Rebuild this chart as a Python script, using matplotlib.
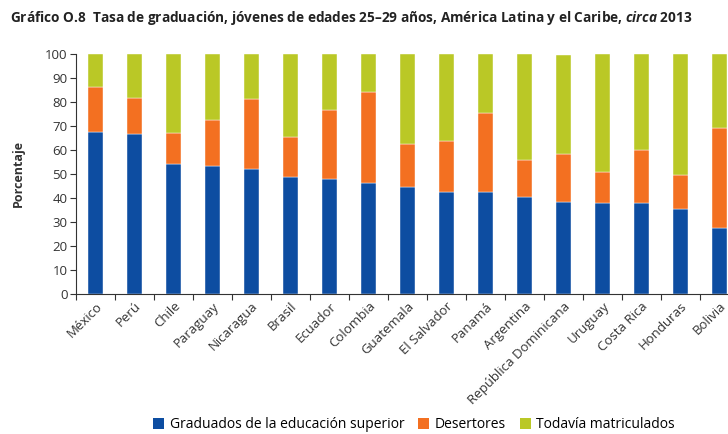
import numpy as np
import matplotlib.pyplot as plt
from matplotlib.patches import Patch

paises = ['México', 'Perú', 'Chile', 'Paraguay', 'Nicaragua', 'Brasil', 'Ecuador',
          'Colombia', 'Guatemala', 'El Salvador', 'Panamá', 'Argentina',
          'República Dominicana', 'Uruguay', 'Costa Rica', 'Honduras', 'Bolivia']

graduados = [67.3, 66.8, 54.3, 53.4, 52.0, 48.6, 48.0, 46.1, 44.7, 42.5, 42.5,
             40.3, 38.3, 37.9, 37.9, 35.6, 27.4]
desertores = [18.9, 14.7, 12.9, 18.9, 29.1, 16.9, 28.7, 37.9, 17.7, 21.2, 32.8,
              15.5, 19.9, 12.9, 22.1, 13.8, 41.9]
matriculados = [13.8, 18.5, 32.8, 27.7, 18.9, 34.5, 23.3, 16.0, 37.6, 36.3, 24.7,
                44.2, 41.2, 49.2, 40.0, 50.6, 30.7]

series_nombres = ['Graduados de la educación superior', 'Desertores', 'Todavía matriculados']
colores = ['#0d4da1', '#f37021', '#bac826']

plt.rcParams['font.family'] = ['Open Sans', 'DejaVu Sans']
plt.rcParams['mathtext.fontset'] = 'custom'
plt.rcParams['mathtext.it'] = 'Open Sans:italic:bold'
plt.rcParams['mathtext.rm'] = 'Open Sans:bold'

fig = plt.figure(figsize=(7.28, 4.34), dpi=100)
ax = fig.add_axes([76 / 728, 140 / 434, 663 / 728, 240 / 434])

x = np.arange(len(paises))
w = 0.41
abajo = np.zeros(len(paises))
for vals, col in zip([graduados, desertores, matriculados], colores):
    ax.bar(x, vals, w, bottom=abajo, color=col, edgecolor='white', linewidth=0.3)
    abajo += np.array(vals)

ax.set_xlim(-0.5, len(paises) - 0.5)
ax.set_ylim(0, 100)
ax.set_yticks(range(0, 101, 10))
ax.tick_params(axis='y', labelsize=9.5, colors='#333333', length=4, width=0.8, pad=2)
ax.set_xticks(np.arange(-0.5, len(paises), 1.0), minor=False)
ax.set_xticklabels([])
ax.set_xticks(x, minor=True)
ax.set_xticklabels(paises, minor=True, rotation=45, ha='right', va='top',
                   rotation_mode='anchor', fontsize=9.5, color='#333333')
ax.tick_params(axis='x', which='major', length=4, width=0.8, color='#333333')
ax.tick_params(axis='x', which='minor', length=0, pad=4)

for s in ['top', 'right']:
    ax.spines[s].set_visible(False)
for s in ['left', 'bottom']:
    ax.spines[s].set_color('#333333')
    ax.spines[s].set_linewidth(0.8)

fig.text(18 / 728, 1 - 174 / 434, 'Porcentaje', rotation=90, ha='center', va='center',
         fontsize=9, fontweight='bold', color='#333333')

fig.text(10 / 728, 1 - 18 / 434,
         r'Gráfico O.8  Tasa de graduación, jóvenes de edades 25–29 años, América Latina y el Caribe, $circa$ 2013',
         ha='left', va='center', fontsize=9.8, fontweight='bold', color='#222222')

handles = [Patch(facecolor=c, label=n) for c, n in zip(colores, series_nombres)]
fig.legend(handles=handles, loc='center', bbox_to_anchor=(414 / 728, 1 - 425 / 434),
           ncol=3, frameon=False, fontsize=10, handlelength=0.8, handleheight=0.8,
           handletextpad=0.4, columnspacing=1.0)

fig.savefig('out.png', dpi=100)
